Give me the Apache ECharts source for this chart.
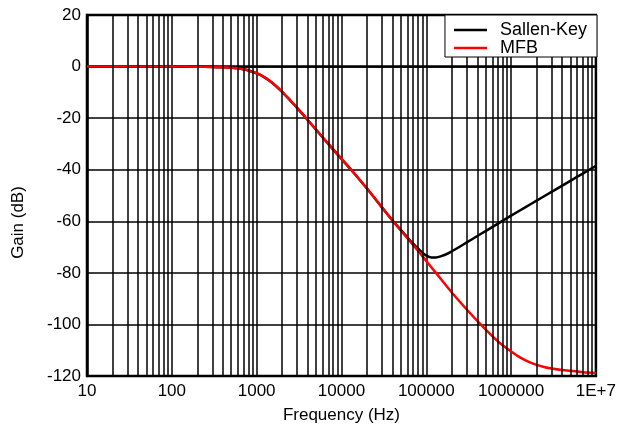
<!DOCTYPE html>
<html>
<head>
<meta charset="utf-8">
<title>Sallen-Key vs MFB low-pass response</title>
<script src="https://cdn.jsdelivr.net/npm/echarts@6/dist/echarts.min.js"></script>
<style>
  html, body { margin: 0; padding: 0; background: #fff; }
  #chart { width: 619px; height: 434px; }
</style>
</head>
<body>
<div id="chart"></div>
<script>
// Frequency points (Hz) and gain (dB) for each filter topology
const mfbFreq = [10, 100, 200, 300, 400, 500, 600, 700, 800, 1000, 1200, 1500, 2000, 2500,
  3000, 4000, 5000, 7000, 10000, 13000, 20000, 30000, 40000, 60000, 80000, 100000,
  130000, 200000, 300000, 437000, 600000, 800000, 1000000, 1200000, 1500000,
  2000000, 2500000, 3000000, 4000000, 5000000, 7000000, 10000000];
const mfbGain = [0, 0, -0.05, -0.12, -0.25, -0.45, -0.7, -1.05, -1.5, -2.6, -3.9, -6.1, -9.8, -13.2,
  -16.0, -20.7, -24.4, -30.0, -35.8, -40.0, -47.3, -54.6, -59.8, -66.6, -71.4, -75.4,
  -80.0, -87.6, -94.2, -100.0, -104.5, -108.2, -110.5, -112.3, -114.0,
  -115.7, -116.6, -117.1, -117.7, -118.0, -118.5, -118.8];

const skFreq = [10, 100, 200, 300, 400, 500, 600, 700, 800, 1000, 1200, 1500, 2000, 2500,
  3000, 4000, 5000, 7000, 10000, 13000, 20000, 30000, 40000, 50000, 60000, 70000,
  80000, 90000, 100000, 115000, 130000, 150000, 180000, 200000, 250000, 300000, 400000,
  500000, 700000, 1000000, 1500000, 2000000, 3000000, 5000000, 7000000, 10000000];
const skGain = [0, 0, -0.05, -0.12, -0.25, -0.45, -0.7, -1.05, -1.5, -2.6, -3.9, -6.1, -9.8, -13.2,
  -16.0, -20.7, -24.4, -30.0, -35.8, -40.0, -47.3, -54.6, -59.7, -63.3, -66.3, -68.7,
  -70.6, -72.2, -73.3, -74.0, -74.0, -73.5, -72.5, -71.7, -69.8, -68.2, -65.7,
  -63.8, -60.9, -57.8, -54.4, -52.0, -48.6, -44.3, -41.5, -38.5];

const seriesNames = ['Sallen-Key', 'MFB'];
const xTickLabels = ['10', '100', '1000', '10000', '100000', '1000000', '1E+7'];
const yTicks = [20, 0, -20, -40, -60, -80, -100, -120];

// Intermediate log gridlines at 2..9 × each decade
const minorGrid = [];
for (let d = 10; d < 1e7; d *= 10) {
  for (let m = 2; m <= 9; m++) minorGrid.push({ xAxis: m * d });
}

const pair = (xs, ys) => xs.map((x, i) => [x, ys[i]]);
const FONT = 'Liberation Sans, Arial, sans-serif';
const FS = 17;

const chart = echarts.init(document.getElementById('chart'), null, { renderer: 'canvas' });
chart.setOption({
  animation: false,
  backgroundColor: '#fff',
  textStyle: { fontFamily: FONT, color: '#000' },
  grid: {
    left: 87, right: 22, top: 15, bottom: 58,
    show: true, borderColor: '#000', borderWidth: 2.5, backgroundColor: 'transparent'
  },
  legend: {
    right: 22, top: 15,
    z: 50,
    orient: 'vertical',
    backgroundColor: '#fff',
    borderColor: '#000', borderWidth: 1,
    padding: [6, 10, 0, 9],
    itemGap: 0,
    itemWidth: 33, itemHeight: 2.5,
    icon: 'rect',
    textStyle: { fontFamily: FONT, fontSize: 18, color: '#000', padding: [0, 0, 0, 8] },
    data: seriesNames
  },
  xAxis: {
    type: 'log', logBase: 10, min: 10, max: 1e7,
    name: 'Frequency (Hz)', nameLocation: 'middle', nameGap: 31,
    nameTextStyle: { fontFamily: FONT, fontSize: FS, color: '#000' },
    axisLine: { show: true, lineStyle: { color: '#000', width: 2.5 } },
    axisTick: { show: false },
    axisLabel: {
      fontFamily: FONT, fontSize: FS, color: '#000', margin: 7,
      formatter: v => xTickLabels[Math.round(Math.log10(v)) - 1]
    },
    splitLine: { show: true, lineStyle: { color: '#000', width: 1.5 } }
  },
  yAxis: {
    type: 'value', min: -120, max: 20, interval: 20,
    name: 'Gain (dB)', nameLocation: 'middle', nameGap: 60,
    nameTextStyle: { fontFamily: FONT, fontSize: FS, color: '#000', padding: [0, 54, 0, 0] },
    axisLine: { show: true, lineStyle: { color: '#000', width: 2.5 } },
    axisTick: { show: false },
    axisLabel: {
      fontFamily: FONT, fontSize: FS, color: '#000', margin: 6,
      formatter: v => (yTicks.includes(v) ? String(v) : '')
    },
    splitLine: { show: true, lineStyle: { color: '#000', width: 1.5 } }
  },
  series: [
    {
      name: seriesNames[0], type: 'line', smooth: 0.3, showSymbol: false,
      data: pair(skFreq, skGain),
      lineStyle: { color: '#000', width: 2.5 },
      itemStyle: { color: '#000' },
      markLine: {
        silent: true, symbol: 'none', animation: false,
        label: { show: false },
        lineStyle: { color: '#000', width: 1.5, type: 'solid' },
        emphasis: { disabled: true },
        data: minorGrid
      },
      z: 2
    },
    {
      name: seriesNames[1], type: 'line', smooth: 0.3, showSymbol: false,
      data: pair(mfbFreq, mfbGain),
      lineStyle: { color: '#ff0000', width: 2.5 },
      itemStyle: { color: '#ff0000' },
      z: 3
    }
  ]
});
</script>
</body>
</html>
